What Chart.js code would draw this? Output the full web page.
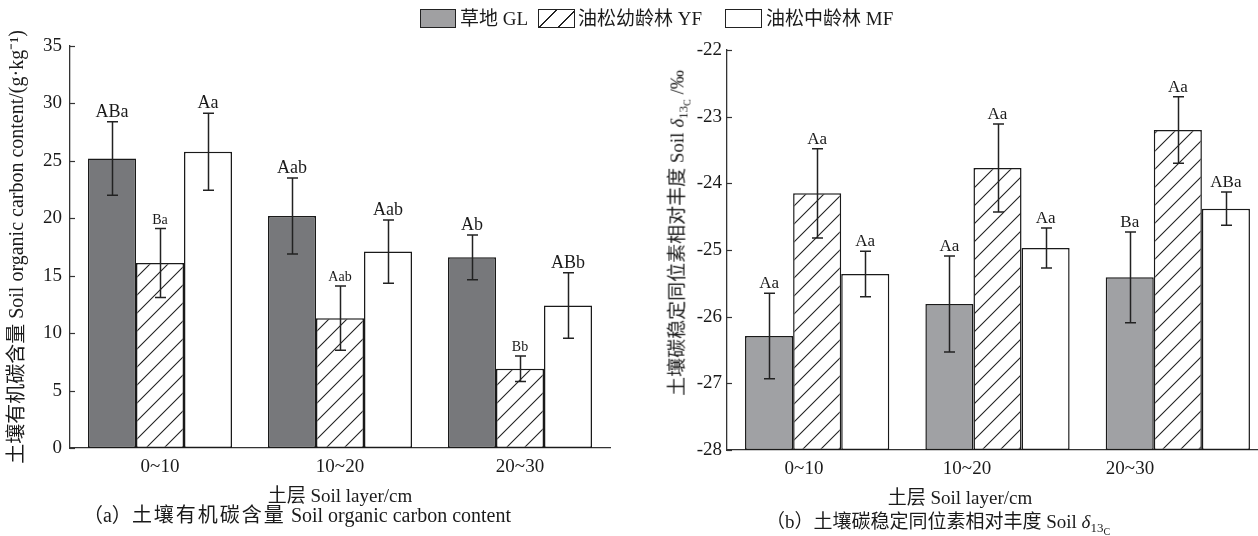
<!DOCTYPE html>
<html><head><meta charset="utf-8">
<script src="https://cdn.jsdelivr.net/npm/chart.js@4/dist/chart.umd.min.js"></script>
<style>
html,body{margin:0;padding:0;width:1258px;height:536px;overflow:hidden;background:#fff;}
body{position:relative;font-family:"Liberation Serif","Noto Sans CJK SC",serif;color:#1a1a1a;}
canvas{position:absolute;}
.t{position:absolute;white-space:nowrap;font-size:19px;line-height:1;}
.c{transform:translate(-50%,-50%);}
.box{position:absolute;box-sizing:border-box;border:1.5px solid #222;}
.s1{font-size:13px;position:relative;top:4px;}
.s2{font-size:10px;position:relative;top:3px;}
.sp{letter-spacing:2px;}
</style></head><body>
<canvas id="c1" width="630" height="510" style="left:0;top:0"></canvas>
<canvas id="c2" width="640" height="510" style="left:640px;top:0"></canvas>

<div class="box" style="left:420px;top:9px;width:36px;height:19px;background:#a0a0a2"></div>
<div class="t" style="left:460px;top:9px">草地 GL</div>
<div class="box" style="left:538px;top:9px;width:37px;height:19px;background:repeating-linear-gradient(135deg,#fff 0 12px,#222 12px 13.2px)"></div>
<div class="t" style="left:578px;top:9px">油松幼龄林 YF</div>
<div class="box" style="left:725px;top:9px;width:37px;height:19px;background:#fff"></div>
<div class="t" style="left:766px;top:9px">油松中龄林 MF</div>

<div class="t" style="left:677px;top:233px;transform:translate(-50%,-50%) rotate(-90deg);">土壤碳稳定同位素相对丰度 Soil <i>δ</i><span class="s1">13<span class="s2">C</span></span> /‰</div>
<div class="t c" style="left:960px;top:497px">土层 Soil layer/cm</div>
<div class="t c" style="left:297px;top:515px;font-size:20px">（a）<span class="sp">土壤有机碳含量</span> Soil organic carbon content</div>
<div class="t c" style="left:938px;top:521px">（b）土壤碳稳定同位素相对丰度 Soil <i>δ</i><span class="s1">13<span class="s2">C</span></span></div>

<script>
// ---- data ----
const layers = ['0~10', '10~20', '20~30'];
const seriesNames = ['草地 GL', '油松幼龄林 YF', '油松中龄林 MF'];

// (a) soil organic carbon content, g/kg
const socGL = [25.2, 20.2, 16.6];
const socYF = [16.1, 11.3, 6.9];
const socMF = [25.8, 17.1, 12.4];
const socErrGL = [3.2, 3.3, 1.95];
const socErrYF = [3.0, 2.8, 1.1];
const socErrMF = [3.35, 2.75, 2.85];
const socSigGL = ['ABa', 'Aab', 'Ab'];
const socSigYF = ['Ba', 'Aab', 'Bb'];
const socSigMF = ['Aa', 'Aab', 'ABb'];
const socTicks = [0, 5, 10, 15, 20, 25, 30, 35];

// (b) soil delta 13C, permil
const d13GL = [-26.29, -25.81, -25.41];
const d13YF = [-24.15, -23.77, -23.2];
const d13MF = [-25.36, -24.97, -24.38];
const d13ErrGL = [0.64, 0.72, 0.68];
const d13ErrYF = [0.67, 0.66, 0.5];
const d13ErrMF = [0.34, 0.3, 0.25];
const d13SigGL = ['Aa', 'Aa', 'Ba'];
const d13SigYF = ['Aa', 'Aa', 'Aa'];
const d13SigMF = ['Aa', 'Aa', 'ABa'];
const d13Ticks = [-28, -27, -26, -25, -24, -23, -22];

// ---- styling ----
const FONT = '"Liberation Serif","Noto Sans CJK SC",serif';
const INK = '#1a1a1a';

function hatch(canvasId) {
  const s = 18, c = document.createElement('canvas');
  c.width = c.height = s;
  const g = c.getContext('2d');
  g.fillStyle = '#fff'; g.fillRect(0, 0, s, s);
  g.strokeStyle = '#222'; g.lineWidth = 1.1;
  g.beginPath();
  g.moveTo(0, s); g.lineTo(s, 0);
  g.moveTo(-2, 2); g.lineTo(2, -2);
  g.moveTo(s - 2, s + 2); g.lineTo(s + 2, s - 2);
  g.stroke();
  return document.getElementById(canvasId).getContext('2d').createPattern(c, 'repeat');
}

const errPlugin = {
  id: 'errbars',
  afterDatasetsDraw(chart) {
    const ctx = chart.ctx, y = chart.scales.y;
    chart.data.datasets.forEach((ds, di) => {
      const meta = chart.getDatasetMeta(di);
      meta.data.forEach((bar, i) => {
        const v = ds.data[i], e = ds.errors[i];
        const yt = y.getPixelForValue(v + e), yb = y.getPixelForValue(v - e);
        const x = Math.round(bar.x) + 0.5;
        ctx.save();
        ctx.strokeStyle = '#222'; ctx.lineWidth = 1.5;
        ctx.beginPath();
        ctx.moveTo(x, yt); ctx.lineTo(x, yb);
        ctx.moveTo(x - 5.5, yt); ctx.lineTo(x + 5.5, yt);
        ctx.moveTo(x - 5.5, yb); ctx.lineTo(x + 5.5, yb);
        ctx.stroke();
        ctx.fillStyle = INK;
        ctx.font = ds.sigSize + 'px ' + FONT;
        ctx.textAlign = 'center'; ctx.textBaseline = 'alphabetic';
        ctx.fillText(ds.sig[i], bar.x, yt - 5);
        ctx.restore();
      });
    });
  }
};

const innerTicks = {
  id: 'innerTicks',
  afterDraw(chart) {
    const s = chart.scales.y, ctx = chart.ctx;
    ctx.save(); ctx.strokeStyle = '#333'; ctx.lineWidth = 1.2;
    s.ticks.forEach(t => {
      const py = Math.round(s.getPixelForValue(t.value)) + 0.5;
      ctx.beginPath(); ctx.moveTo(s.right, py); ctx.lineTo(s.right + 5, py); ctx.stroke();
    });
    ctx.restore();
  }
};

const tickFont = { family: FONT, size: 19 };
const titleFont = { family: FONT, size: 20 };
const axisBorder = { display: true, color: '#333', width: 1.3 };
const barStyle = { categoryPercentage: 0.8, barPercentage: 1, borderSkipped: false };

// ---- chart (a) ----
new Chart(document.getElementById('c1'), {
  type: 'bar',
  data: {
    labels: layers,
    datasets: [
      { label: seriesNames[0], data: socGL, errors: socErrGL, sig: socSigGL, sigSize: 18,
        backgroundColor: '#77787b', borderColor: INK, borderWidth: 1.5 },
      { label: seriesNames[1], data: socYF, errors: socErrYF, sig: socSigYF, sigSize: 14,
        backgroundColor: hatch('c1'), borderColor: INK, borderWidth: 1.5 },
      { label: seriesNames[2], data: socMF, errors: socErrMF, sig: socSigMF, sigSize: 18,
        backgroundColor: '#ffffff', borderColor: INK, borderWidth: 1.5 }
    ]
  },
  options: {
    responsive: false, animation: false, devicePixelRatio: 1,
    layout: { padding: { top: 46, left: 0, right: 20, bottom: 0 } },
    datasets: { bar: barStyle },
    plugins: { legend: { display: false }, tooltip: { enabled: false } },
    scales: {
      x: {
        grid: { display: false, drawTicks: false }, border: axisBorder,
        ticks: { padding: 8, color: INK, font: tickFont },
        title: { display: true, text: '土层 Soil layer/cm', color: INK, font: { family: FONT, size: 19 }, padding: { top: 0, bottom: 2 } },
        afterFit(s) { s.height = 62; }
      },
      y: {
        min: 0, max: 35,
        afterBuildTicks(s) { s.ticks = socTicks.map(v => ({ value: v })); },
        grid: { display: false, drawTicks: false }, border: axisBorder,
        ticks: { padding: 8, color: INK, font: tickFont },
        title: { display: true, text: '土壤有机碳含量 Soil organic carbon content/(g·kg⁻¹)', color: INK, font: titleFont, padding: { top: 6, bottom: 0 } },
        afterFit(s) { s.width = 70; }
      }
    }
  },
  plugins: [errPlugin, innerTicks]
});

// ---- chart (b) ----
new Chart(document.getElementById('c2'), {
  type: 'bar',
  data: {
    labels: layers,
    datasets: [
      { label: seriesNames[0], data: d13GL, errors: d13ErrGL, sig: d13SigGL, sigSize: 17, base: -28,
        xAxisID: 'x', yAxisID: 'y', backgroundColor: '#a0a1a4', borderColor: INK, borderWidth: 1.5 },
      { label: seriesNames[1], data: d13YF, errors: d13ErrYF, sig: d13SigYF, sigSize: 17, base: -28,
        xAxisID: 'x', yAxisID: 'y', backgroundColor: hatch('c2'), borderColor: INK, borderWidth: 1.5 },
      { label: seriesNames[2], data: d13MF, errors: d13ErrMF, sig: d13SigMF, sigSize: 17, base: -28,
        xAxisID: 'x', yAxisID: 'y', backgroundColor: '#ffffff', borderColor: INK, borderWidth: 1.5 }
    ]
  },
  options: {
    responsive: false, animation: false, devicePixelRatio: 1,
    layout: { padding: { top: 50, left: 0, right: 12, bottom: 0 } },
    datasets: { bar: barStyle },
    plugins: { legend: { display: false }, tooltip: { enabled: false } },
    scales: {
      x: { type: 'category', display: false, offset: true },
      x2: {
        type: 'linear', position: 'bottom', min: -0.4724, max: 2.8466, offset: false,
        afterBuildTicks(s) { s.ticks = layers.map((l, i) => ({ value: i })); },
        grid: { display: false, drawTicks: false, offset: false }, border: axisBorder,
        ticks: { padding: 8, color: INK, font: tickFont, callback: (v) => layers[v] ?? '' },
        afterFit(s) { s.height = 60; }
      },
      y: {
        min: -28, max: -22,
        afterBuildTicks(s) { s.ticks = d13Ticks.map(v => ({ value: v })); },
        grid: { display: false, drawTicks: false }, border: axisBorder,
        ticks: { padding: 5, color: INK, font: tickFont },
        afterFit(s) { s.width = 87; }
      }
    }
  },
  plugins: [errPlugin, innerTicks]
});
</script>
</body></html>
